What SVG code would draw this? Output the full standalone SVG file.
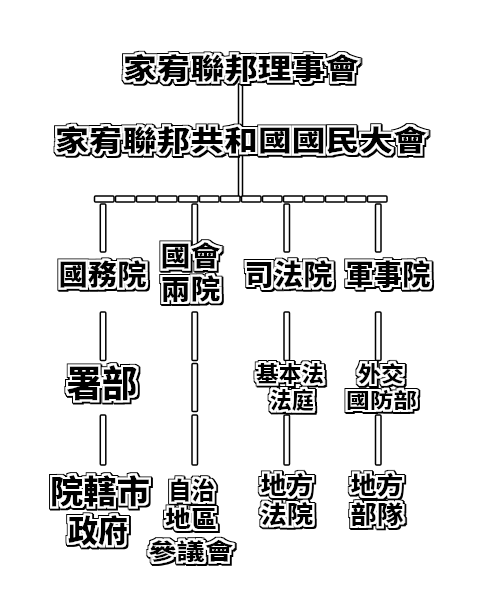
<svg xmlns="http://www.w3.org/2000/svg" width="479" height="600" viewBox="0 0 479 600">
<defs>
<style>
.bar{fill:#fff;stroke:#000;stroke-width:1.5}
.t{font-family:"Noto Sans CJK TC","Noto Sans CJK SC",sans-serif;font-weight:900;fill:#000;text-anchor:middle;filter:url(#halo)}
</style>
<filter id="halo" x="-20%" y="-30%" width="140%" height="160%">
<feMorphology in="SourceAlpha" operator="dilate" radius="3" result="o"/>
<feOffset in="o" dx="0.8" dy="0.8" result="os"/>
<feMorphology in="SourceAlpha" operator="dilate" radius="1.6" result="i"/>
<feFlood flood-color="#fff" result="w"/>
<feComposite in="w" in2="i" operator="in" result="wi"/>
<feMerge><feMergeNode in="o"/><feMergeNode in="os"/><feMergeNode in="wi"/><feMergeNode in="SourceGraphic"/></feMerge>
</filter>
</defs>
<rect width="479" height="600" fill="#fff"/>
<g id="connectors">
<rect class="bar" x="238.5" y="84" width="4" height="113"/>
<rect class="bar" x="94.5" y="196" width="19.5" height="6" rx="1"/>
<rect class="bar" x="115.5" y="196" width="19.5" height="6" rx="1"/>
<rect class="bar" x="136.5" y="196" width="19.5" height="6" rx="1"/>
<rect class="bar" x="157.5" y="196" width="19.5" height="6" rx="1"/>
<rect class="bar" x="178.5" y="196" width="19.5" height="6" rx="1"/>
<rect class="bar" x="199.5" y="196" width="19.5" height="6" rx="1"/>
<rect class="bar" x="220.5" y="196" width="19.5" height="6" rx="1"/>
<rect class="bar" x="241.5" y="196" width="19.5" height="6" rx="1"/>
<rect class="bar" x="262.5" y="196" width="19.5" height="6" rx="1"/>
<rect class="bar" x="283.5" y="196" width="19.5" height="6" rx="1"/>
<rect class="bar" x="304.5" y="196" width="19.5" height="6" rx="1"/>
<rect class="bar" x="325.5" y="196" width="19.5" height="6" rx="1"/>
<rect class="bar" x="346.5" y="196" width="19.5" height="6" rx="1"/>
<rect class="bar" x="367.5" y="196" width="19.5" height="6" rx="1"/>
<rect class="bar" x="100.3" y="204" width="5.5" height="48" rx="1"/>
<rect class="bar" x="192" y="204" width="5.5" height="48" rx="1"/>
<rect class="bar" x="284" y="204" width="5.5" height="48" rx="1"/>
<rect class="bar" x="375.5" y="204" width="5.5" height="48" rx="1"/>
<rect class="bar" x="100.3" y="312" width="5.5" height="48.5" rx="1"/>
<rect class="bar" x="192" y="312" width="5.5" height="48.5" rx="1"/>
<rect class="bar" x="284" y="312" width="5.5" height="48.5" rx="1"/>
<rect class="bar" x="375.5" y="312" width="5.5" height="48.5" rx="1"/>
<rect class="bar" x="192" y="363.5" width="5.5" height="48" rx="1"/>
<rect class="bar" x="100.3" y="415" width="5.5" height="50" rx="1"/>
<rect class="bar" x="192" y="415" width="5.5" height="50" rx="1"/>
<rect class="bar" x="284" y="415" width="5.5" height="50" rx="1"/>
<rect class="bar" x="375.5" y="415" width="5.5" height="50" rx="1"/>
</g>
<g id="council"><text class="t" x="241" y="79" font-size="28" textLength="236" lengthAdjust="spacingAndGlyphs">家宥聯邦理事會</text></g>
<g id="assembly"><text class="t" x="241" y="151" font-size="28" textLength="372" lengthAdjust="spacingAndGlyphs">家宥聯邦共和國國民大會</text></g>
<g id="state-council"><text class="t" x="102.5" y="285" font-size="28" textLength="88" lengthAdjust="spacingAndGlyphs">國務院</text></g>
<g id="parliament"><text class="t" font-size="27"><tspan x="190.5" y="266" textLength="60" lengthAdjust="spacingAndGlyphs">國會</tspan><tspan x="190.5" y="299" textLength="60" lengthAdjust="spacingAndGlyphs">兩院</tspan></text></g>
<g id="judiciary"><text class="t" x="288.5" y="285" font-size="28" textLength="88" lengthAdjust="spacingAndGlyphs">司法院</text></g>
<g id="military"><text class="t" x="388" y="285" font-size="28" textLength="85" lengthAdjust="spacingAndGlyphs">軍事院</text></g>
<g id="bureaus"><text class="t" x="101.7" y="397" font-size="36" textLength="71" lengthAdjust="spacingAndGlyphs">署部</text></g>
<g id="constitutional-court"><text class="t" font-size="21"><tspan x="290" y="381" textLength="68" lengthAdjust="spacingAndGlyphs">基本法</tspan><tspan x="291.7" y="408" font-size="22" textLength="44" lengthAdjust="spacingAndGlyphs">法庭</tspan></text></g>
<g id="foreign-defense"><text class="t" font-size="21"><tspan x="381" y="381" textLength="46" lengthAdjust="spacingAndGlyphs">外交</tspan><tspan x="381.5" y="408" font-size="20" textLength="71" lengthAdjust="spacingAndGlyphs">國防部</tspan></text></g>
<g id="municipal"><text class="t" font-size="32"><tspan x="100" y="503" textLength="100" lengthAdjust="spacingAndGlyphs">院轄市</tspan><tspan x="98" y="542" font-size="31" textLength="60" lengthAdjust="spacingAndGlyphs">政府</tspan></text></g>
<g id="regional-council"><text class="t" font-size="24"><tspan x="191.5" y="499" textLength="47" lengthAdjust="spacingAndGlyphs">自治</tspan><tspan x="191" y="527" font-size="23" textLength="52" lengthAdjust="spacingAndGlyphs">地區</tspan><tspan x="190.8" y="559" font-size="22" textLength="85" lengthAdjust="spacingAndGlyphs">參議會</tspan></text></g>
<g id="local-court"><text class="t" font-size="24"><tspan x="286.7" y="494" textLength="53" lengthAdjust="spacingAndGlyphs">地方</tspan><tspan x="286.7" y="523" textLength="53" lengthAdjust="spacingAndGlyphs">法院</tspan></text></g>
<g id="local-units"><text class="t" font-size="24"><tspan x="376.7" y="494" textLength="53" lengthAdjust="spacingAndGlyphs">地方</tspan><tspan x="376.7" y="523" textLength="53" lengthAdjust="spacingAndGlyphs">部隊</tspan></text></g>
</svg>
